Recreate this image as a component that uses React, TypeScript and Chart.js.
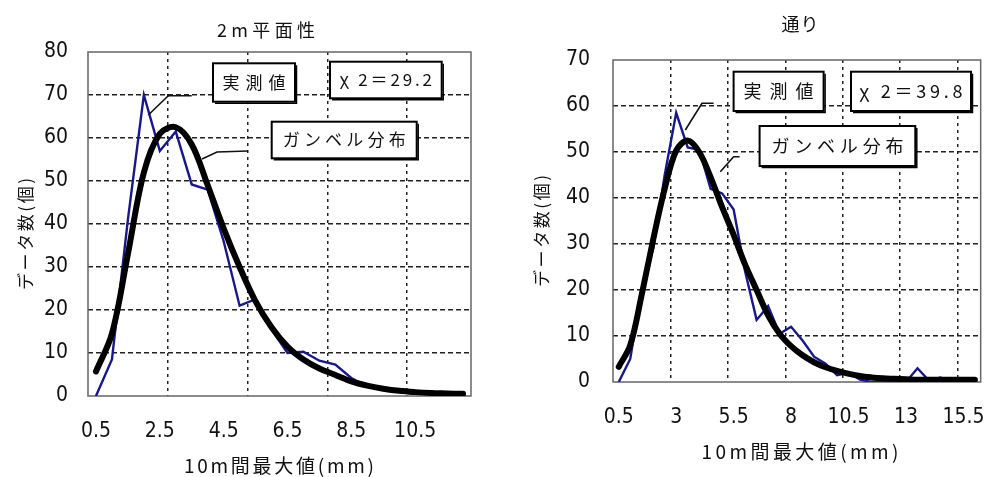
import { useEffect, useRef } from "react";
import { Chart, registerables } from "chart.js";

Chart.register(...registerables);

// ---- 2m平面性 ----
const flatnessCategories = [0.5, 1, 1.5, 2, 2.5, 3, 3.5, 4, 4.5, 5, 5.5, 6, 6.5, 7, 7.5, 8, 8.5, 9, 9.5, 10, 10.5, 11, 11.5, 12];
const flatnessMeasured = [0, 8.5, 41, 70, 57, 61.5, 49.2, 48, 36, 21, 22.5, 15.5, 10, 10.3, 8.2, 7.3, 4.2, 2.2, 1.5, 1, 0.5, 0.5, 0.3, 0.3];
const flatnessGumbel = [5.7, 14.5, 33, 52, 61, 62.5, 58.5, 49, 39, 30, 22, 16, 11.5, 8.5, 6.4, 4.9, 3.4, 2.4, 1.7, 1.2, 0.9, 0.7, 0.6, 0.5];
const flatnessTickLabels = ["0.5", "2.5", "4.5", "6.5", "8.5", "10.5"];
const flatnessYMax = 80;
const flatnessChi = "χ 2＝29.2";

// ---- 通り ----
const alignmentCategories = [0.5, 1, 1.5, 2, 2.5, 3, 3.5, 4, 4.5, 5, 5.5, 6, 6.5, 7, 7.5, 8, 8.5, 9, 9.5, 10, 10.5, 11, 11.5, 12, 12.5, 13, 13.5, 14, 14.5, 15, 15.5, 16];
const alignmentMeasured = [0, 5, 20, 29, 45, 58.5, 51, 50.5, 42, 41, 37.5, 24, 13.5, 16.5, 10.5, 12, 9, 5.5, 4, 1.5, 2, 0.5, 0, 0, 0, 0, 3, 0.3, 1, 0, 0, 0];
const alignmentGumbel = [3.3, 8, 19, 31, 42, 50.3, 52.5, 50, 44.5, 38, 32, 25.5, 20, 14.5, 10.5, 7.8, 5.8, 4.3, 3.2, 2.4, 1.8, 1.3, 1.0, 0.8, 0.7, 0.6, 0.5, 0.5, 0.5, 0.5, 0.5, 0.5];
const alignmentTickLabels = ["0.5", "3", "5.5", "8", "10.5", "13", "15.5"];
const alignmentYMax = 70;
const alignmentChi = "χ 2＝39.8";

const MEASURED_LABEL = "実測値";
const GUMBEL_LABEL = "ガンベル分布";
const Y_TITLE = "データ数(個)";
const X_TITLE = "10m間最大値(mm)";

const JP_FONT = "'Noto Sans CJK JP', 'Noto Sans', sans-serif";
const NUM_FONT = "'Liberation Sans Narrow', 'DejaVu Sans Condensed', 'Liberation Sans', sans-serif";
const TEXT_COLOR = "#111";

type TextSpec = { text: string; cx: number; cy: number; size: number; width: number };
type BoxSpec = { text: string; dx: number; dy: number; w: number; h: number; size: number; width: number };

interface PanelSpec {
  left: number;
  width: number;
  categories: number[];
  measured: number[];
  gumbel: number[];
  tickLabels: string[];
  yMax: number;
  padTop: number;
  padRight: number;
  yAxisWidth: number;
  xAxisHeight: number;
  yTickPad: number;
  title: TextSpec;
  yTitle: TextSpec;
  xTitle: TextSpec;
  boxes: BoxSpec[];
  leaders: number[][][];
}

// Draws a string with its glyphs spread to fill a given width.
function drawSpaced(ctx: CanvasRenderingContext2D, t: TextSpec, rotate = false) {
  ctx.save();
  ctx.font = `${t.size}px ${JP_FONT}`;
  ctx.fillStyle = TEXT_COLOR;
  ctx.textBaseline = "middle";
  ctx.textAlign = "left";
  const chars = Array.from(t.text);
  const widths = chars.map((c) => ctx.measureText(c).width);
  const natural = widths.reduce((a, b) => a + b, 0);
  let gap = chars.length > 1 ? (t.width - natural) / (chars.length - 1) : 0;
  let squeeze = 1;
  if (gap < 0) {
    squeeze = t.width / natural;
    gap = 0;
  }
  const total = (natural + gap * (chars.length - 1)) * squeeze;
  ctx.translate(t.cx, t.cy);
  if (rotate) ctx.rotate(-Math.PI / 2);
  ctx.scale(squeeze, 1);
  let x = -total / 2 / squeeze;
  chars.forEach((c, i) => {
    ctx.fillText(c, x, 0);
    x += widths[i] + gap;
  });
  ctx.restore();
}

function makeDecor(spec: PanelSpec) {
  return {
    id: "decor",
    beforeDatasetsDraw(chart: Chart) {
      const { ctx, chartArea: a } = chart;
      ctx.save();
      ctx.strokeStyle = "#666";
      ctx.lineWidth = 1.5;
      ctx.strokeRect(a.left, a.top, a.right - a.left, a.bottom - a.top);
      ctx.restore();
    },
    afterDatasetsDraw(chart: Chart) {
      const { ctx, chartArea: a } = chart;
      ctx.save();
      // leader lines from the labels to the curves
      ctx.strokeStyle = "#111";
      ctx.lineWidth = 1.6;
      spec.leaders.forEach((pts) => {
        ctx.beginPath();
        pts.forEach(([dx, dy], i) => {
          if (i === 0) ctx.moveTo(a.left + dx, a.top + dy);
          else ctx.lineTo(a.left + dx, a.top + dy);
        });
        ctx.stroke();
      });
      // labelled boxes
      spec.boxes.forEach((b) => {
        const x = a.left + b.dx;
        const y = a.top + b.dy;
        ctx.fillStyle = "#fff";
        ctx.fillRect(x, y, b.w, b.h);
        ctx.strokeStyle = "#000";
        ctx.lineWidth = 2;
        ctx.strokeRect(x, y, b.w, b.h);
        ctx.lineWidth = 1.5;
        ctx.beginPath();
        ctx.moveTo(x + b.w + 1.5, y + 2);
        ctx.lineTo(x + b.w + 1.5, y + b.h + 1.5);
        ctx.lineTo(x + 2, y + b.h + 1.5);
        ctx.stroke();
        drawSpaced(ctx, { text: b.text, cx: x + b.w / 2, cy: y + b.h / 2, size: b.size, width: b.width });
      });
      ctx.restore();
    },
    afterDraw(chart: Chart) {
      const { ctx } = chart;
      drawSpaced(ctx, spec.title);
      drawSpaced(ctx, spec.xTitle);
      drawSpaced(ctx, spec.yTitle, true);
    },
  };
}

function Panel({ spec }: { spec: PanelSpec }) {
  const ref = useRef<HTMLCanvasElement | null>(null);
  useEffect(() => {
    const canvas = ref.current;
    if (!canvas) return;
    const labels = spec.categories.map((c) => String(c));
    const chart = new Chart(canvas, {
      type: "line",
      data: {
        labels,
        datasets: [
          {
            label: MEASURED_LABEL,
            data: spec.measured,
            borderColor: "#18188c",
            borderWidth: 2.4,
            pointRadius: 0,
            tension: 0,
            order: 2,
          },
          {
            label: GUMBEL_LABEL,
            data: spec.gumbel,
            borderColor: "#000",
            borderWidth: 6,
            pointRadius: 0,
            tension: 0.35,
            borderCapStyle: "round",
            borderJoinStyle: "round",
            order: 1,
          },
        ],
      },
      options: {
        responsive: false,
        animation: false,
        events: [],
        layout: { padding: { top: spec.padTop, right: spec.padRight, left: 0, bottom: 0 } },
        plugins: {
          legend: { display: false },
          title: { display: false },
          tooltip: { enabled: false },
        },
        scales: {
          x: {
            type: "category",
            offset: true,
            grid: {
              offset: true,
              drawTicks: false,
              lineWidth: 1.5,
              color: (c: any) =>
                c.index !== undefined && c.index > 0 && c.index % 5 === 0 ? "#222" : "rgba(0,0,0,0)",
            },
            border: { display: false, dash: [3, 4] },
            ticks: {
              autoSkip: false,
              maxRotation: 0,
              minRotation: 0,
              padding: 23,
              color: TEXT_COLOR,
              font: { family: NUM_FONT, size: 21 },
              callback: function (this: any, value: any) {
                const l = this.getLabelForValue(value);
                return spec.tickLabels.includes(l) ? l : "";
              },
            },
            afterFit: (s: any) => {
              s.height = spec.xAxisHeight;
            },
          },
          y: {
            min: 0,
            max: spec.yMax,
            grid: {
              drawTicks: false,
              lineWidth: 1.5,
              color: (c: any) =>
                c.tick && (c.tick.value === 0 || c.tick.value === spec.yMax) ? "rgba(0,0,0,0)" : "#222",
            },
            border: { display: false, dash: [5, 3] },
            ticks: {
              stepSize: 10,
              padding: spec.yTickPad,
              color: TEXT_COLOR,
              font: { family: NUM_FONT, size: 21 },
            },
            afterFit: (s: any) => {
              s.width = spec.yAxisWidth;
            },
          },
        },
      },
      plugins: [makeDecor(spec)],
    } as any);
    return () => chart.destroy();
  }, [spec]);
  return (
    <canvas
      ref={ref}
      width={spec.width}
      height={477}
      style={{ position: "absolute", left: spec.left, top: 0, width: spec.width, height: 477 }}
    />
  );
}

const flatnessPanel: PanelSpec = {
  left: 0,
  width: 490,
  categories: flatnessCategories,
  measured: flatnessMeasured,
  gumbel: flatnessGumbel,
  tickLabels: flatnessTickLabels,
  yMax: flatnessYMax,
  padTop: 52,
  padRight: 19,
  yAxisWidth: 88,
  xAxisHeight: 81,
  yTickPad: 20,
  title: { text: "2m平面性", cx: 266, cy: 30, size: 18, width: 98 },
  yTitle: { text: Y_TITLE, cx: 26, cy: 234, size: 17, width: 112 },
  xTitle: { text: X_TITLE, cx: 279, cy: 466, size: 19, width: 190 },
  boxes: [
    { text: MEASURED_LABEL, dx: 125, dy: 11.3, w: 82, h: 38.4, size: 17, width: 63 },
    { text: flatnessChi, dx: 242, dy: 9.7, w: 111.7, h: 36.6, size: 17, width: 92 },
    { text: GUMBEL_LABEL, dx: 183.7, dy: 69.7, w: 145, h: 36.6, size: 17, width: 123 },
  ],
  leaders: [
    [[103.7, 43.7], [80.3, 43.7], [60.3, 63]],
    [[160, 99], [129, 100], [114, 107]],
  ],
};

const alignmentPanel: PanelSpec = {
  left: 500,
  width: 498,
  categories: alignmentCategories,
  measured: alignmentMeasured,
  gumbel: alignmentGumbel,
  tickLabels: alignmentTickLabels,
  yMax: alignmentYMax,
  padTop: 60,
  padRight: 5,
  yAxisWidth: 113,
  xAxisHeight: 95,
  yTickPad: 23,
  title: { text: "通り", cx: 300, cy: 24, size: 18, width: 37 },
  yTitle: { text: Y_TITLE, cx: 42, cy: 231, size: 17, width: 112 },
  xTitle: { text: X_TITLE, cx: 300, cy: 452, size: 19, width: 197 },
  boxes: [
    { text: MEASURED_LABEL, dx: 120.6, dy: 11.7, w: 90, h: 39.3, size: 18, width: 70 },
    { text: alignmentChi, dx: 238, dy: 11.7, w: 120, h: 39.3, size: 18, width: 103 },
    { text: GUMBEL_LABEL, dx: 146.6, dy: 66, w: 155.7, h: 40, size: 18, width: 132 },
  ],
  leaders: [
    [[100.6, 43.3], [89, 43.3], [72.3, 70]],
    [[126.6, 96.7], [120.6, 96.7], [107.3, 111.7]],
  ],
};

export default function App() {
  return (
    <div style={{ position: "fixed", left: 0, top: 0, width: 998, height: 477, background: "#fff", overflow: "hidden" }}>
      <Panel spec={flatnessPanel} />
      <Panel spec={alignmentPanel} />
    </div>
  );
}
